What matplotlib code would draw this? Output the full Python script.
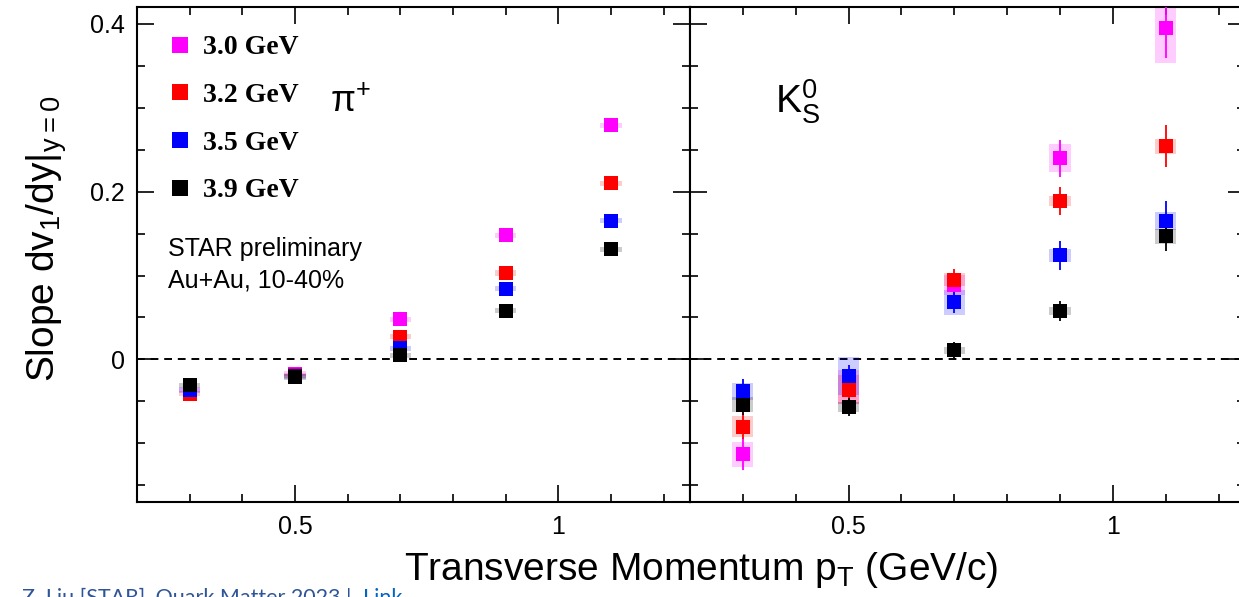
import numpy as np
import matplotlib
matplotlib.use('Agg')
import matplotlib.pyplot as plt
from matplotlib import ticker

plt.rcParams['font.family'] = ['Liberation Sans', 'DejaVu Sans']
plt.rcParams['mathtext.fontset'] = 'custom'
plt.rcParams['mathtext.rm'] = 'Liberation Sans'

# pT bins (GeV/c)
pt = [0.3, 0.5, 0.7, 0.9, 1.1]

energies = ['3.0 GeV', '3.2 GeV', '3.5 GeV', '3.9 GeV']
colors = ['#ff00ff', '#ff0000', '#0000ff', '#000000']

# pi+ slopes
pion_30 = [-0.036, -0.017, 0.048, 0.148, 0.279]
pion_32 = [-0.041, -0.019, 0.027, 0.103, 0.210]
pion_35 = [-0.037, -0.020, 0.013, 0.084, 0.165]
pion_39 = [-0.031, -0.021, 0.005, 0.058, 0.131]
pion_sys = [0.003, 0.003, 0.003, 0.003, 0.003]

# K0s slopes, stat errors, sys errors
kaon_30 = [-0.113, -0.033, 0.089, 0.240, 0.395]
kaon_32 = [-0.080, -0.036, 0.095, 0.189, 0.254]
kaon_35 = [-0.038, -0.020, 0.068, 0.124, 0.165]
kaon_39 = [-0.054, -0.057, 0.011, 0.058, 0.147]

kaon_30_err = [0.019, 0.015, 0.012, 0.022, 0.036]
kaon_32_err = [0.015, 0.015, 0.013, 0.017, 0.025]
kaon_35_err = [0.015, 0.013, 0.013, 0.017, 0.024]
kaon_39_err = [0.012, 0.011, 0.010, 0.012, 0.018]

kaon_30_sys = [0.015, 0.020, 0.012, 0.017, 0.042]
kaon_32_sys = [0.012, 0.017, 0.008, 0.006, 0.009]
kaon_35_sys = [0.010, 0.023, 0.015, 0.008, 0.011]
kaon_39_sys = [0.009, 0.006, 0.004, 0.005, 0.009]

pion = [pion_30, pion_32, pion_35, pion_39]
kaon = [kaon_30, kaon_32, kaon_35, kaon_39]
kaon_err = [kaon_30_err, kaon_32_err, kaon_35_err, kaon_39_err]
kaon_sys = [kaon_30_sys, kaon_32_sys, kaon_35_sys, kaon_39_sys]

fig = plt.figure(figsize=(12.39, 5.97), dpi=100)
ax1 = fig.add_axes([0.1106, 0.1591, 0.4463, 0.8291])
ax2 = fig.add_axes([0.5569, 0.1591, 0.4479, 0.8291], sharey=ax1)

for ax in (ax1, ax2):
    ax.set_xlim(0.2, 1.25)
    ax.set_ylim(-0.17, 0.42)
    ax.axhline(0, color='black', lw=1.4, ls=(0, (4, 3)), zorder=0)
    ax.xaxis.set_major_locator(ticker.FixedLocator([0.5, 1.0]))
    ax.xaxis.set_minor_locator(ticker.MultipleLocator(0.1))
    ax.yaxis.set_major_locator(ticker.MultipleLocator(0.2))
    ax.yaxis.set_minor_locator(ticker.MultipleLocator(0.05))
    ax.xaxis.set_major_formatter(ticker.FormatStrFormatter('%g'))
    ax.yaxis.set_major_formatter(ticker.FuncFormatter(lambda v, p: '%g' % round(v, 3)))
    ax.tick_params(which='both', direction='in', top=True, right=True,
                   labelsize=18, width=1.2, pad=9)
    ax.tick_params(which='major', length=12)
    ax.tick_params(which='minor', length=6)
    for s in ax.spines.values():
        s.set_linewidth(1.5)
ax2.tick_params(labelleft=False)

# pi+ panel
for vals, c, lab in zip(pion, colors, energies):
    ax1.bar(pt, 2 * np.array(pion_sys), bottom=np.array(vals) - np.array(pion_sys),
            width=0.04, color=c, alpha=0.2, lw=0, zorder=1)
    ax1.plot(pt, vals, 's', color=c, ms=10, mew=0, zorder=3, label=lab)

# K0s panel
for vals, err, sys, c in zip(kaon, kaon_err, kaon_sys, colors):
    ax2.bar(pt, 2 * np.array(sys), bottom=np.array(vals) - np.array(sys),
            width=0.04, color=c, alpha=0.2, lw=0, zorder=1)
    ax2.errorbar(pt, vals, yerr=err, fmt='s', color=c, ms=10, mew=0,
                 elinewidth=1.3, capsize=2, capthick=1.3, zorder=3)

leg = ax1.legend(loc='upper left', bbox_to_anchor=(0.027, 0.972), frameon=False,
                 prop={'family': 'Liberation Serif', 'weight': 'bold', 'size': 20},
                 handlelength=1.0, handletextpad=0.35, labelspacing=0.8,
                 borderpad=0, markerscale=1.1, numpoints=1)

ax1.text(0.349, 0.788, r'$\mathregular{\pi^{+}}$', transform=ax1.transAxes,
         fontsize=26, ha='left', va='baseline')
ax2.text(0.153, 0.786, r'$\mathregular{K^{0}_{S}}$', transform=ax2.transAxes,
         fontsize=28, ha='left', va='baseline')
ax1.text(0.056, 0.497, 'STAR preliminary', transform=ax1.transAxes,
         fontsize=18, ha='left', va='baseline')
ax1.text(0.056, 0.434, 'Au+Au, 10-40%', transform=ax1.transAxes,
         fontsize=18, ha='left', va='baseline')

fig.text(0.038, 0.60, r'Slope dv$\mathregular{_1}$/dy|$\mathregular{_{y{=}0}}$',
         rotation=90, fontsize=28, ha='center', va='center')
fig.text(0.566, 0.0285, r'Transverse Momentum p$\mathregular{_T}$ (GeV/c)',
         fontsize=28, ha='center', va='baseline')

fig.text(0.0178, -0.011, 'Z. Liu [STAR], Quark Matter 2023 |',
         family='Lato', fontsize=15.5, color='#2f5597', ha='left', va='baseline')
fig.text(0.293, -0.011, 'Link', family='Lato', fontsize=15.5, color='#0563c1',
         ha='left', va='baseline')

fig.savefig('out.png', dpi=100)
